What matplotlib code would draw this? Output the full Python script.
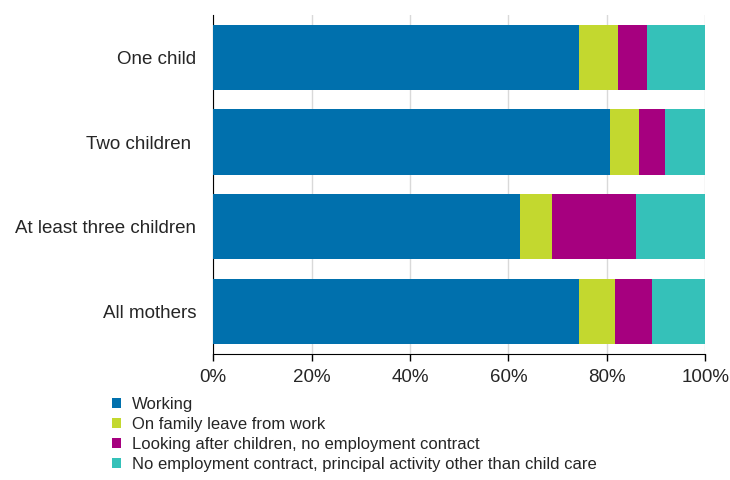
import matplotlib
matplotlib.use("Agg")
import matplotlib.pyplot as plt
from matplotlib.patches import Patch
from matplotlib.ticker import FuncFormatter

categories = ["One child", "Two children ", "At least three children", "All mothers"]
series_names = [
    "Working",
    "On family leave from work",
    "Looking after children, no employment contract",
    "No employment contract, principal activity other than child care",
]
working = [74.4, 80.7, 62.4, 74.4]
family_leave = [7.9, 5.8, 6.5, 7.2]
looking_after = [5.9, 5.3, 17.0, 7.6]
other = [11.8, 8.2, 14.1, 10.8]

colors = ["#0070AD", "#C3D82F", "#A6007F", "#35C1B9"]

plt.rcParams["font.family"] = ["Liberation Sans", "DejaVu Sans"]

fig = plt.figure(figsize=(7.3, 4.8), dpi=100)
ax = fig.add_axes([0.292, 0.2625, 0.674, 0.7065])

ypos = list(range(len(categories)))
left = [0.0] * len(categories)
for vals, color, name in zip([working, family_leave, looking_after, other], colors, series_names):
    ax.barh(ypos, vals, left=left, height=0.77, color=color, label=name, zorder=3)
    left = [a + b for a, b in zip(left, vals)]

ax.set_ylim(3.5, -0.5)
ax.set_xlim(0, 100)
ax.set_yticks(ypos)
ax.set_yticklabels(categories)
ax.set_xticks(range(0, 101, 20))
ax.xaxis.set_major_formatter(FuncFormatter(lambda v, p: f"{v:.0f}%"))

ax.grid(axis="x", color="#d9d9d9", linewidth=1, zorder=0)
for side in ["top", "right"]:
    ax.spines[side].set_visible(False)
ax.spines["left"].set_color("black")
ax.spines["bottom"].set_color("black")
ax.tick_params(axis="y", length=0, pad=12, labelsize=13.5, labelcolor="#262626")
ax.tick_params(axis="x", length=5, width=1, direction="out", pad=6, labelsize=13.5, labelcolor="#262626")

handles = [Patch(facecolor=c, edgecolor="none") for c in colors]
fig.legend(
    handles,
    series_names,
    loc="upper left",
    bbox_to_anchor=(0.153, 0.173),
    frameon=False,
    fontsize=12,
    handlelength=0.55,
    handleheight=0.55,
    handletextpad=0.65,
    labelspacing=0.3,
    borderaxespad=0,
    borderpad=0,
    labelcolor="#262626",
)

fig.savefig("out.png", dpi=100)
